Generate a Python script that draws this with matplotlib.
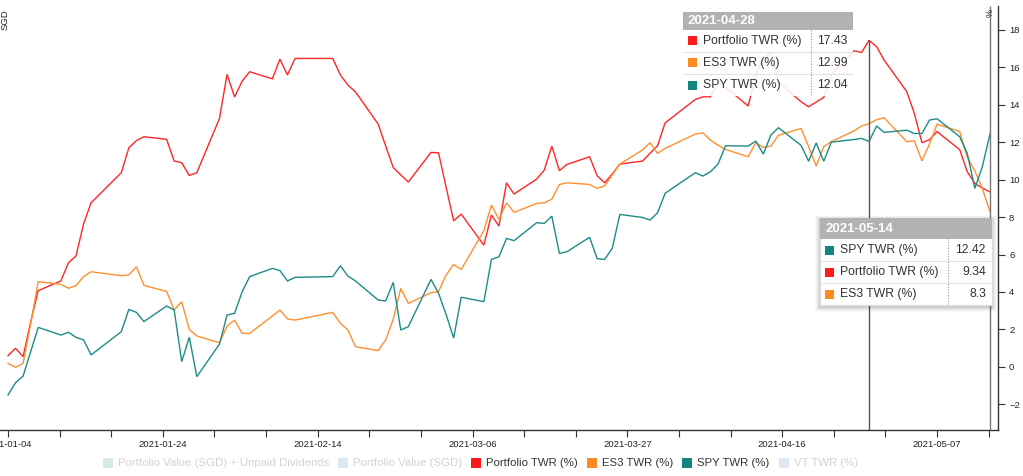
import matplotlib
matplotlib.use("Agg")
import matplotlib.dates as mdates
import matplotlib.pyplot as plt
import numpy as np
import pandas as pd
from matplotlib.patches import Rectangle
from matplotlib.lines import Line2D

plt.rcParams["font.family"] = ["Liberation Sans", "DejaVu Sans"]

W, H = 1023, 476

# trading days shown on the chart
dates = [
    "2021-01-04", "2021-01-05", "2021-01-06", "2021-01-07", "2021-01-08",
    "2021-01-11", "2021-01-12", "2021-01-13", "2021-01-14", "2021-01-15",
    "2021-01-19", "2021-01-20", "2021-01-21", "2021-01-22",
    "2021-01-25", "2021-01-26", "2021-01-27", "2021-01-28", "2021-01-29",
    "2021-02-01", "2021-02-02", "2021-02-03", "2021-02-04", "2021-02-05",
    "2021-02-08", "2021-02-09", "2021-02-10", "2021-02-11",
    "2021-02-16", "2021-02-17", "2021-02-18", "2021-02-19",
    "2021-02-22", "2021-02-23", "2021-02-24", "2021-02-25", "2021-02-26",
    "2021-03-01", "2021-03-02", "2021-03-03", "2021-03-04", "2021-03-05",
    "2021-03-08", "2021-03-09", "2021-03-10", "2021-03-11", "2021-03-12",
    "2021-03-15", "2021-03-16", "2021-03-17", "2021-03-18", "2021-03-19",
    "2021-03-22", "2021-03-23", "2021-03-24", "2021-03-25", "2021-03-26",
    "2021-03-29", "2021-03-30", "2021-03-31", "2021-04-01",
    "2021-04-05", "2021-04-06", "2021-04-07", "2021-04-08", "2021-04-09",
    "2021-04-12", "2021-04-13", "2021-04-14", "2021-04-15", "2021-04-16",
    "2021-04-19", "2021-04-20", "2021-04-21", "2021-04-22", "2021-04-23",
    "2021-04-26", "2021-04-27", "2021-04-28", "2021-04-29", "2021-04-30",
    "2021-05-03", "2021-05-04", "2021-05-05", "2021-05-06", "2021-05-07",
    "2021-05-10", "2021-05-11", "2021-05-12", "2021-05-13", "2021-05-14",
]

portfolio_twr = [
    0.60, 0.99, 0.55, 2.40, 4.07,
    4.59, 5.56, 5.92, 7.63, 8.76,
    10.37, 11.70, 12.08, 12.29,
    12.15, 10.99, 10.90, 10.22, 10.37,
    13.27, 15.62, 14.41, 15.26, 15.76,
    15.38, 16.43, 15.59, 16.47,
    16.47, 15.59, 15.05, 14.69,
    12.97, 11.80, 10.65, 10.25, 9.87,
    11.45, 11.43, 9.60, 7.80, 8.16,
    6.50, 8.11, 7.52, 9.83, 9.23,
    10.03, 10.51, 11.79, 10.48, 10.81,
    11.22, 10.21, 9.83, 10.30, 10.83,
    10.99, 11.40, 11.81, 13.03,
    14.28, 14.42, 14.42, 15.20, 14.93,
    13.93, 15.60, 16.50, 16.80, 15.20,
    14.16, 13.89, 14.14, 14.39, 15.60,
    16.88, 16.79, 17.43, 17.10, 16.38,
    14.69, 13.53, 11.97, 12.13, 12.56,
    11.60, 10.42, 9.80, 9.55, 9.34,
]

es3_twr = [
    0.19, -0.02, 0.19, 2.30, 4.55,
    4.41, 4.20, 4.34, 4.82, 5.08,
    4.87, 4.91, 5.35, 4.35,
    4.03, 3.04, 3.48, 2.00, 1.65,
    1.29, 2.18, 2.50, 1.79, 1.79,
    2.72, 3.04, 2.56, 2.50,
    2.91, 2.33, 1.97, 1.08,
    0.87, 1.44, 2.54, 4.19, 3.39,
    3.96, 4.02, 4.90, 5.47, 5.20,
    7.27, 8.64, 7.88, 8.76, 8.25,
    8.73, 8.76, 8.96, 9.74, 9.83,
    9.74, 9.53, 9.67, 10.25, 10.83,
    11.58, 11.97, 11.40, 11.67,
    12.43, 12.50, 12.11, 11.84, 11.61,
    11.22, 11.97, 11.72, 11.79, 12.37,
    12.73, 11.76, 10.72, 11.76, 12.03,
    12.60, 12.86, 12.99, 13.20, 13.30,
    12.02, 12.07, 11.00, 11.90, 12.96,
    12.57, 11.20, 10.47, 9.53, 8.30,
]

spy_twr = [
    -1.50, -0.84, -0.49, 0.81, 2.11,
    1.70, 1.85, 1.58, 1.44, 0.64,
    1.88, 3.07, 2.91, 2.42,
    3.25, 3.04, 0.28, 1.58, -0.52,
    1.22, 2.77, 2.86, 4.01, 4.82,
    5.26, 5.14, 4.59, 4.78,
    4.82, 5.40, 4.85, 4.59,
    3.57, 3.52, 4.51, 1.97, 2.15,
    4.67, 3.93, 2.80, 1.54, 3.72,
    3.48, 5.74, 5.88, 6.86, 6.74,
    7.70, 7.66, 8.05, 6.06, 6.15,
    6.92, 5.78, 5.74, 6.33, 8.14,
    7.98, 7.84, 8.23, 9.27,
    10.37, 10.19, 10.42, 10.83, 11.81,
    11.79, 12.06, 11.36, 12.38, 12.77,
    11.83, 10.98, 11.96, 10.98, 12.00,
    12.14, 12.20, 12.04, 12.86, 12.52,
    12.64, 12.46, 12.46, 13.18, 13.25,
    12.29, 11.40, 9.53, 10.69, 12.42,
]

series_names = ["Portfolio TWR (%)", "ES3 TWR (%)", "SPY TWR (%)"]
series_colors = ["#ff2626", "#ff9030", "#1d8c87"]

legend_labels = [
    "Portfolio Value (SGD) + Unpaid Dividends",
    "Portfolio Value (SGD)",
    "Portfolio TWR (%)",
    "ES3 TWR (%)",
    "SPY TWR (%)",
    "VT TWR (%)",
]
legend_colors = ["#d6eaea", "#dbe7f1", "#ff1a1a", "#ff8a22", "#12857f", "#dde8f2"]
legend_active = [False, False, True, True, True, False]

tooltip_dates = ["2021-04-28", "2021-05-14"]

y_ticks = [-2, 0, 2, 4, 6, 8, 10, 12, 14, 16, 18]


def fx(x):
    return x / W


def fy(y):
    return 1 - y / H


def main():
    df = pd.DataFrame(
        {"date": pd.to_datetime(dates), "p": portfolio_twr, "e": es3_twr, "s": spy_twr}
    )
    values = [df["p"], df["e"], df["s"]]

    fig = plt.figure(figsize=(W / 100, H / 100), dpi=100)
    ax = fig.add_axes([0, (H - 430) / H, 998 / W, 424 / H])

    for vals, color in zip(values, series_colors):
        ax.plot(df["date"], vals, color=color, lw=1.0, solid_joinstyle="miter")

    start = mdates.date2num(pd.Timestamp("2021-01-04"))
    ax.set_xlim(start - 1.06, start + 131.07)
    ax.set_ylim(-3.37, 19.27)

    ax.set_xticks(start + np.arange(0, 131, 20.5))
    ax.set_xticks(start + np.arange(0, 131.07, 20.5 / 3), minor=True)
    ax.xaxis.set_major_formatter(mdates.DateFormatter("%Y-%m-%d"))
    ax.set_yticks(y_ticks)
    ax.yaxis.tick_right()

    for side in ["left", "top"]:
        ax.spines[side].set_visible(False)
    for side in ["right", "bottom"]:
        ax.spines[side].set_color("#333333")
        ax.spines[side].set_linewidth(1.0)

    ax.tick_params(axis="x", which="both", direction="out", length=5, width=0.8,
                   color="#333333", labelsize=6.8, labelcolor="#222222", pad=2.5)
    ax.tick_params(axis="y", direction="out", length=5, width=0.8,
                   color="#333333", labelsize=6.8, labelcolor="#222222", pad=3)

    fig.text(fx(5), fy(20), "SGD", rotation=90, ha="center", va="center",
             fontsize=6.8, color="#222222")
    fig.text(fx(990), fy(13), "%", rotation=90, ha="center", va="center",
             fontsize=6.5, color="#222222")

    # hover lines
    t_first, t_last = [pd.Timestamp(d) for d in tooltip_dates]
    p_first = float(df.loc[df["date"] == t_first, "p"].iloc[0])
    ax.vlines(t_first, -3.37, p_first, color="#555555", lw=1.0, zorder=3)
    ax.vlines(t_last, -3.37, 19.27, color="#777777", lw=1.0, zorder=3)

    def tooltip(when, x0, y0, w, head_h, row_h, sep_x, val_right, bg_alpha, shadow):
        row = df.loc[df["date"] == when].iloc[0]
        items = [(row[k], name, c) for k, name, c in zip(["p", "e", "s"], series_names, legend_colors[2:5])]
        items.sort(key=lambda t: -t[0])
        total_h = head_h + row_h * len(items)
        if shadow:
            for i, a in enumerate([0.05, 0.05, 0.04, 0.03, 0.02]):
                g = i + 1
                fig.patches.append(Rectangle((fx(x0 - g), fy(y0 + total_h + g + 2)),
                                             (w + 2 * g) / W, (total_h + 2 * g) / H,
                                             transform=fig.transFigure, facecolor="black",
                                             edgecolor="none", alpha=a, zorder=9))
        fig.patches.append(Rectangle((fx(x0), fy(y0 + total_h)), w / W, total_h / H,
                                     transform=fig.transFigure, facecolor="white",
                                     edgecolor="#dddddd" if shadow else "none",
                                     lw=0.8, alpha=bg_alpha, zorder=10))
        fig.patches.append(Rectangle((fx(x0), fy(y0 + head_h)), w / W, head_h / H,
                                     transform=fig.transFigure, facecolor="#b2b2b2",
                                     edgecolor="none", zorder=11))
        fig.text(fx(x0 + 5), fy(y0 + head_h / 2 + 0.5), when.strftime("%Y-%m-%d"),
                 ha="left", va="center", fontsize=9.5, fontweight="bold",
                 color="white", zorder=12)
        for i, (v, name, c) in enumerate(items):
            top = y0 + head_h + i * row_h
            cy = top + row_h / 2
            if i > 0:
                fig.lines.append(Line2D([fx(x0), fx(x0 + w)], [fy(top), fy(top)],
                                        transform=fig.transFigure, color="#e2e2e2",
                                        lw=0.8, zorder=11))
            fig.patches.append(Rectangle((fx(x0 + 5), fy(cy + 4.5)), 9 / W, 9 / H,
                                         transform=fig.transFigure, facecolor=c,
                                         edgecolor="none", zorder=12))
            fig.text(fx(x0 + 20), fy(cy), name, ha="left", va="center",
                     fontsize=8.8, color="#333333", zorder=12)
            fig.text(fx(val_right), fy(cy), f"{round(v, 2):g}", ha="right",
                     va="center", fontsize=8.8, color="#333333", zorder=12)
        fig.lines.append(Line2D([fx(sep_x), fx(sep_x)], [fy(y0 + head_h), fy(y0 + total_h)],
                                transform=fig.transFigure, color="#999999", lw=0.8,
                                ls=(0, (1, 1.5)), zorder=11))

    tooltip(t_first, 683, 12, 170, 17.5, 22.3, 810.5, 848, 0.88, False)
    tooltip(t_last, 820, 218, 172, 21, 22, 948, 986, 1.0, True)

    # legend along the bottom
    renderer = fig.canvas.get_renderer()
    x = 103
    cy = 463
    for label, color, active in zip(legend_labels, legend_colors, legend_active):
        fig.patches.append(Rectangle((fx(x), fy(cy + 5)), 10 / W, 10 / H,
                                     transform=fig.transFigure, facecolor=color,
                                     edgecolor="none"))
        t = fig.text(fx(x + 15), fy(cy), label, ha="left", va="center", fontsize=8.2,
                     color="#333333" if active else "#d2d2d2")
        width = t.get_window_extent(renderer).width
        x = x + 15 + width + 9

    fig.savefig("out.png", dpi=100)
    plt.close(fig)


if __name__ == "__main__":
    main()
